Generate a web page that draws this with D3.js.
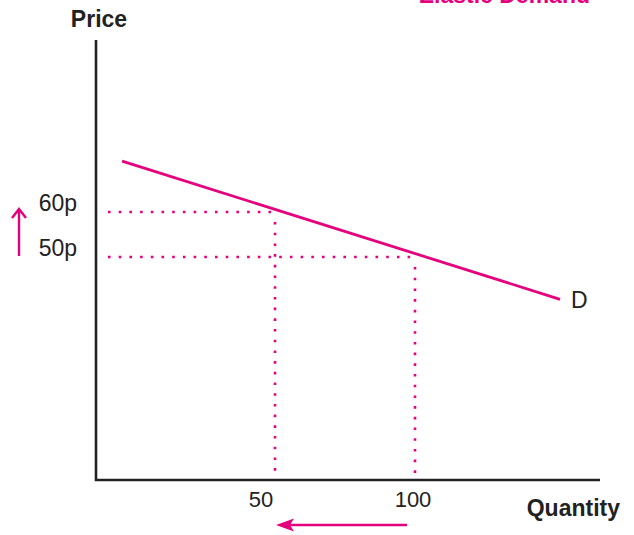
<!DOCTYPE html>
<html><head><meta charset="utf-8">
<script src="https://cdn.jsdelivr.net/npm/d3@7"></script>
<style>body{margin:0;background:#fff}svg{display:block}text{font-family:"Liberation Sans",Arial,sans-serif}</style>
</head><body>
<script>
// Data
const title = "Elastic Demand";
const priceLabels = ["60p", "50p"];
const priceValues = [60, 50];
const quantityLabels = ["50", "100"];
const quantityValues = [50, 100];
const demandQ = [-4.6, 151.8];
const demandP = [71.3, 40.6];
const demandLabel = "D";

const W = 634, H = 535, pink = "#e5007d", dark = "#222";
const svg = d3.select("body").append("svg").attr("width", W).attr("height", H);

const x = d3.scaleLinear().domain([50, 100]).range([275, 415]);
const y = d3.scaleLinear().domain([0, 100]).range([482, 32]);
const x0 = 96, y0 = 480;
const fs = 23;

// dotted guides
const dot = "2.6 8.1";
priceValues.forEach((p, i) => {
  const q = quantityValues[i];
  svg.append("line").attr("x1", x0 + 12).attr("x2", x(q)).attr("y1", y(p)).attr("y2", y(p))
    .attr("stroke", pink).attr("stroke-width", 2.6).attr("stroke-dasharray", dot);
  svg.append("line").attr("x1", x(q)).attr("x2", x(q)).attr("y1", y(p) + 10).attr("y2", y0 - 2)
    .attr("stroke", pink).attr("stroke-width", 2.6).attr("stroke-dasharray", dot);
});

// demand line
const line = d3.line().x(d => x(d[0])).y(d => y(d[1]));
svg.append("path").datum(d3.zip(demandQ, demandP)).attr("d", line)
  .attr("stroke", pink).attr("stroke-width", 2.8).attr("fill", "none");
svg.append("text").attr("x", x(demandQ[1]) + 11).attr("y", y(demandP[1]) + 9)
  .attr("font-size", fs).attr("fill", dark).text(demandLabel);

// axes
svg.append("path").attr("d", `M${x0},40V${y0}H600`).attr("stroke", dark)
  .attr("stroke-width", 2.6).attr("fill", "none");

// labels
svg.append("text").attr("x", 99).attr("y", 27).attr("text-anchor", "middle")
  .attr("font-size", fs).attr("font-weight", "bold").attr("fill", dark).text("Price");
svg.append("text").attr("x", 620).attr("y", 516).attr("text-anchor", "end")
  .attr("font-size", fs).attr("font-weight", "bold").attr("fill", dark).text("Quantity");
svg.append("text").attr("x", 590).attr("y", 3).attr("text-anchor", "end")
  .attr("font-size", fs).attr("font-weight", "bold").attr("fill", pink).text(title);

priceValues.forEach((p, i) => {
  svg.append("text").attr("x", 77).attr("y", y(p) - 1).attr("text-anchor", "end")
    .attr("font-size", fs).attr("fill", dark).text(priceLabels[i]);
});
quantityValues.forEach((q, i) => {
  svg.append("text").attr("x", x(q) - (i === 0 ? 14 : 2)).attr("y", 507).attr("text-anchor", "middle")
    .attr("font-size", 22).attr("fill", dark).text(quantityLabels[i]);
});

// up arrow (open head)
svg.append("path").attr("d", "M19,256V210M12,218L19,209L26,218")
  .attr("stroke", pink).attr("stroke-width", 2.4).attr("fill", "none");
// left arrow (filled head)
svg.append("line").attr("x1", 407).attr("x2", 290).attr("y1", 525).attr("y2", 525)
  .attr("stroke", pink).attr("stroke-width", 2.6);
svg.append("path").attr("d", "M276,525L294,518.5L290,525L294,531.5Z").attr("fill", pink);
</script>
</body></html>
